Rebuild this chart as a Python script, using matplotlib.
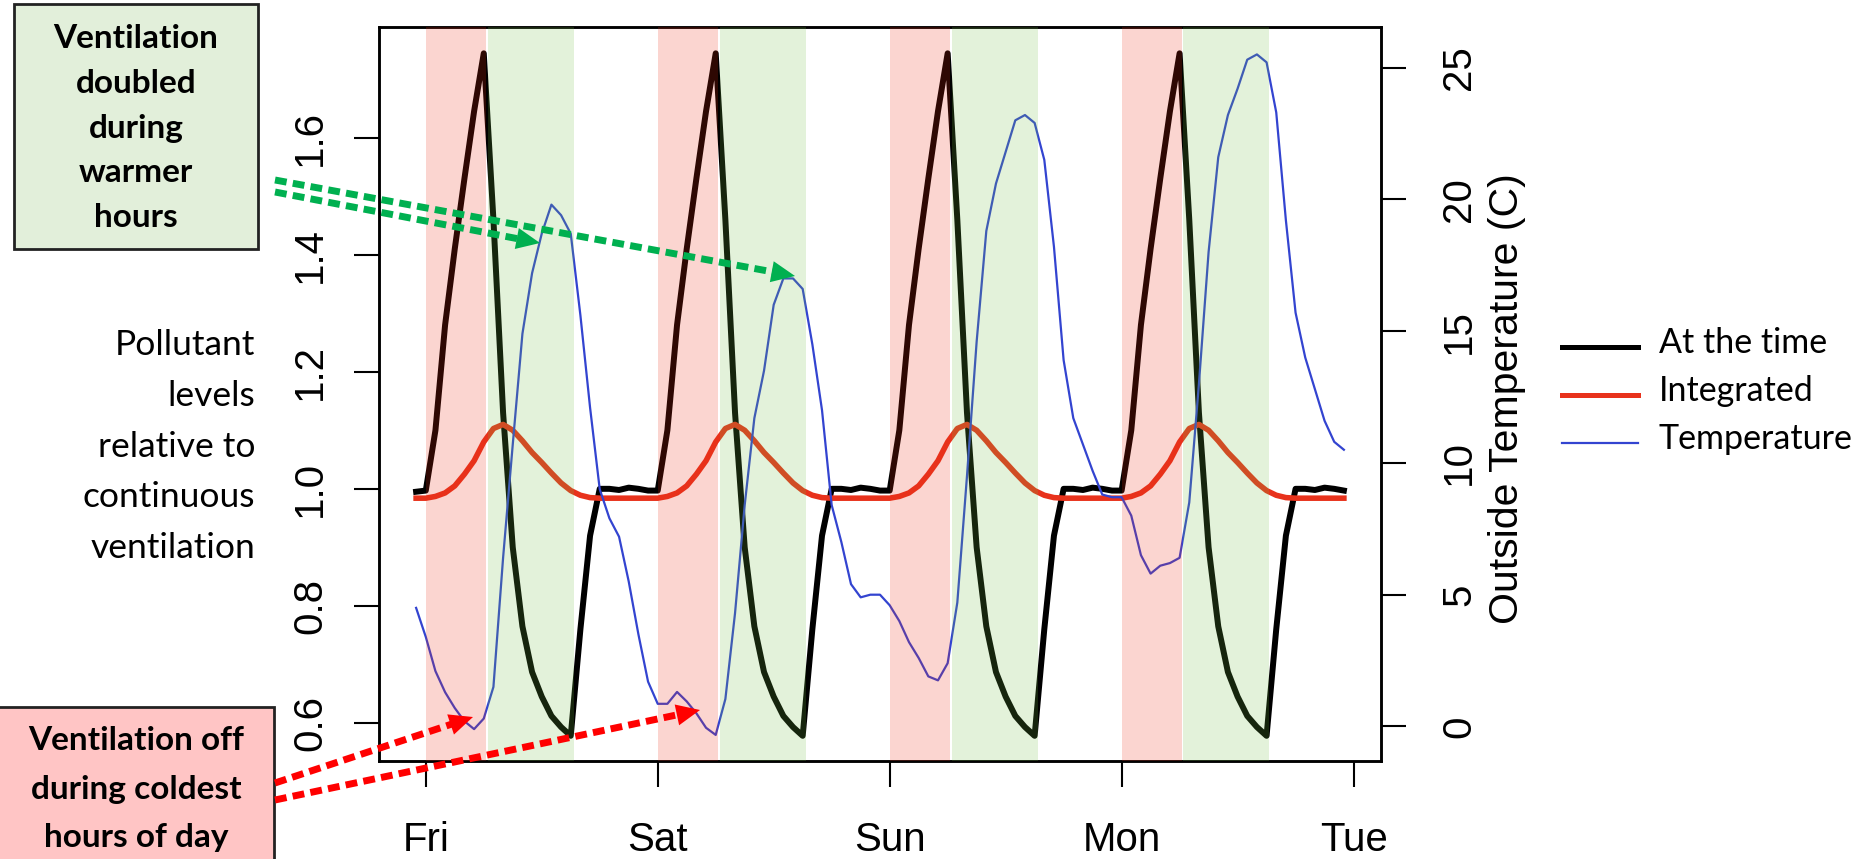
import numpy as np
import matplotlib
matplotlib.use("Agg")
import matplotlib.pyplot as plt
from matplotlib.lines import Line2D
from matplotlib.patches import Rectangle, FancyArrowPatch

plt.rcParams['font.family'] = ['Liberation Sans', 'DejaVu Sans']

# ---- data (hourly, hours since Friday 00:00) ----
hours = np.arange(-1, 96)

# one day of the "at the time" pollutant level, hours 0..23 (same every day)
at_time_day = [0.997, 1.10, 1.28, 1.41, 1.53, 1.645, 1.744, 1.46, 1.13, 0.90,
               0.765, 0.687, 0.645, 0.612, 0.593, 0.578, 0.76, 0.92, 1.0, 1.0,
               0.998, 1.002, 1.0, 0.997]
integrated_day = [0.984, 0.987, 0.993, 1.005, 1.025, 1.048, 1.08, 1.103, 1.11, 1.10,
                  1.082, 1.062, 1.045, 1.027, 1.01, 0.997, 0.989, 0.985, 0.984, 0.984,
                  0.984, 0.984, 0.984, 0.984]
at_time = [0.995] + at_time_day * 4
integrated = [0.984] + integrated_day * 4

temperature = [4.5,
               3.4, 2.1, 1.3, 0.7, 0.2, -0.1, 0.3, 1.5, 6.4, 10.7, 14.9, 17.2,
               18.7, 19.8, 19.4, 18.7, 15.6, 12.1, 9.0, 7.9, 7.2, 5.5, 3.5, 1.7,
               0.86, 0.86, 1.31, 0.95, 0.5, -0.05, -0.32, 1.04, 4.3, 8.4, 11.7, 13.5,
               16.0, 17.0, 17.0, 16.6, 14.5, 12.0, 8.4, 7.0, 5.4, 4.9, 5.0, 5.0,
               4.6, 4.0, 3.2, 2.6, 1.9, 1.75, 2.4, 4.7, 9.5, 14.6, 18.8, 20.6,
               21.8, 23.0, 23.2, 22.9, 21.5, 18.2, 13.9, 11.7, 10.7, 9.7, 8.8, 8.7,
               8.7, 8.0, 6.5, 5.8, 6.1, 6.2, 6.4, 8.5, 13.0, 18.0, 21.6, 23.2,
               24.2, 25.3, 25.5, 25.2, 23.3, 19.2, 15.7, 14.0, 12.8, 11.6, 10.8, 10.5]

vent_off = [(0, 6.2), (24, 30.2), (48, 54.2), (72, 78.2)]
vent_double = [(6.4, 15.3), (30.4, 39.3), (54.4, 63.3), (78.4, 87.3)]

day_ticks = [0, 24, 48, 72, 96]
day_labels = ["Fri", "Sat", "Sun", "Mon", "Tue"]
left_ticks = [0.6, 0.8, 1.0, 1.2, 1.4, 1.6]
right_ticks = [0, 5, 10, 15, 20, 25]

legend_labels = ["At the time", "Integrated", "Temperature"]
left_label = ["Pollutant", "levels", "relative to", "continuous", "ventilation"]
green_note = ["Ventilation", "doubled", "during", "warmer", "hours"]
red_note = ["Ventilation off", "during coldest", "hours of day"]

BLACK, RED, BLUE = "black", "#e8321c", "#3344d0"

# ---- figure ----
W, H = 1858, 859
fig = plt.figure(figsize=(W / 100, H / 100), dpi=100)


def fx(x):
    return x / W


def fy(y):
    return 1 - y / H


ax = fig.add_axes([fx(379), fy(761), (1381 - 379) / W, (761 - 27) / H])
ax.plot(hours, at_time, color=BLACK, lw=4.3, zorder=2)
ax.plot(hours, integrated, color=RED, lw=4.0, zorder=3)
ax.set_xlim(-4.84, 98.84)
ax.set_ylim(0.535, 1.789)

ax2 = ax.twinx()
ax2.plot(hours, temperature, color=BLUE, lw=1.6, zorder=2)
ax2.set_ylim(-1.31, 26.54)
for a, b in vent_off:
    ax2.axvspan(a, b, color="#eb2d14", alpha=0.2, lw=0, zorder=5)
for a, b in vent_double:
    ax2.axvspan(a, b, color="#73be46", alpha=0.2, lw=0, zorder=5)

ax.set_xticks(day_ticks, day_labels)
ax.set_yticks(left_ticks, [f"{v:.1f}" for v in left_ticks], rotation=90, va="center")
ax2.set_yticks(right_ticks, [str(v) for v in right_ticks], rotation=90, va="center")
ax.tick_params(axis="x", length=19, width=1.5, pad=24, labelsize=29)
ax.tick_params(axis="y", length=18, width=1.5, pad=18, labelsize=29)
ax2.tick_params(axis="y", length=18, width=1.5, pad=24.5, labelsize=29)
for a_ in (ax, ax2):
    for s in a_.spines.values():
        s.set_linewidth(1.8)

fig.text(fx(1507), fy(399), "Outside Temperature (C)", rotation=90,
         ha="center", va="center", fontsize=29.5)

# left axis text
for i, line in enumerate(left_label):
    fig.text(fx(255), fy(355 + 50.8 * i), line, ha="right", va="baseline",
             fontsize=25.5, family="Lato")

# legend
for i, (lab, col, lw) in enumerate(zip(legend_labels, [BLACK, RED, BLUE], [3.6, 3.6, 1.6])):
    y = 347 + 48 * i
    fig.add_artist(Line2D([fx(1562), fx(1638)], [fy(y), fy(y)], color=col, lw=lw,
                          transform=fig.transFigure))
    fig.text(fx(1659), fy(y + 6), lab, ha="left", va="baseline", fontsize=24.5, family="Lato")

# note boxes
fig.add_artist(Rectangle((fx(14), fy(249)), (258 - 14) / W, (249 - 4) / H,
                         transform=fig.transFigure, facecolor="#e2efda",
                         edgecolor="#222222", lw=2, zorder=6))
for i, line in enumerate(green_note):
    fig.text(fx(136), fy(48 + 44.8 * i), line, ha="center", va="baseline",
             fontsize=24, fontweight="bold", family="Lato", zorder=7)

fig.add_artist(Rectangle((fx(-5), fy(870)), (274 + 5) / W, (870 - 707) / H,
                         transform=fig.transFigure, facecolor="#ffc5c5",
                         edgecolor="#222222", lw=2, zorder=6))
for i, line in enumerate(red_note):
    fig.text(fx(136), fy(750 + 48.5 * i), line, ha="center", va="baseline",
             fontsize=24, fontweight="bold", family="Lato", zorder=7)


def dotted_arrow(start, tip, color):
    x0, y0 = start
    x1, y1 = tip
    d = np.hypot(x1 - x0, y1 - y0)
    ux, uy = (x1 - x0) / d, (y1 - y0) / d
    bx, by = x1 - ux * 22, y1 - uy * 22
    fig.add_artist(Line2D([fx(x0), fx(bx)], [fy(y0), fy(by)], color=color, lw=5,
                          dashes=(1.7, 0.9), dash_capstyle="butt",
                          transform=fig.transFigure, zorder=8))
    fig.add_artist(FancyArrowPatch((fx(bx - ux * 3), fy(by - uy * 3)), (fx(x1), fy(y1)),
                                   arrowstyle="-|>,head_length=1.0,head_width=0.45",
                                   mutation_scale=17, color=color, lw=0,
                                   shrinkA=0, shrinkB=0,
                                   transform=fig.transFigure, zorder=8))


dotted_arrow((275, 192), (540, 243), "#00b050")
dotted_arrow((275, 180), (795, 276), "#00b050")
dotted_arrow((275, 783), (473, 717), "#ff0000")
dotted_arrow((275, 800), (700, 710), "#ff0000")

fig.savefig("out.png", dpi=100)
